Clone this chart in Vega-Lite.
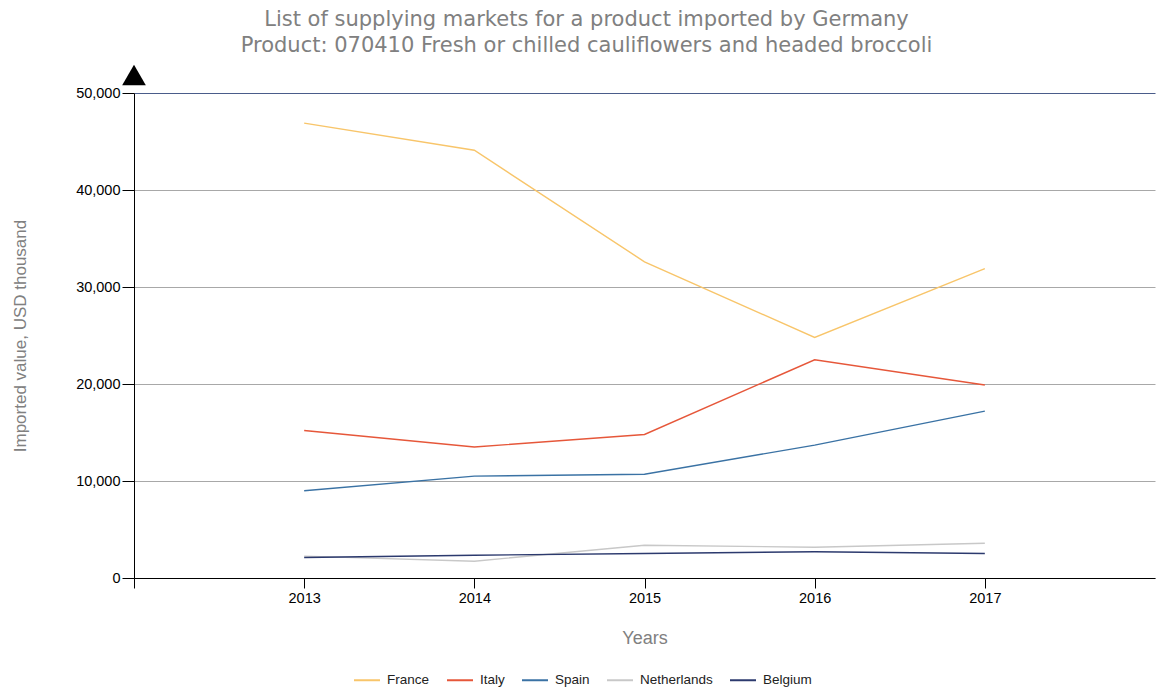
{
  "$schema": "https://vega.github.io/schema/vega-lite/v6.json",
  "autosize": {"type": "none"},
  "width": 1021,
  "height": 485,
  "padding": {"left": 134, "top": 93, "right": 1, "bottom": 110},
  "background": "white",
  "title": {
    "text": ["List of supplying markets for a product imported by Germany", "Product: 070410 Fresh or chilled cauliflowers and headed broccoli"],
    "font": "DejaVu Sans",
    "fontSize": 21,
    "fontWeight": "normal",
    "color": "#808080",
    "anchor": "middle",
    "frame": "group",
    "dx": -58,
    "offset": 9,
    "lineHeight": 26
  },
  "config": {
    "view": {"stroke": null}
  },
  "datasets": {
    "series": [
      {"country": "France", "year": 2013, "value": 46900},
      {"country": "France", "year": 2014, "value": 44100},
      {"country": "France", "year": 2015, "value": 32600},
      {"country": "France", "year": 2016, "value": 24800},
      {"country": "France", "year": 2017, "value": 31900},
      {"country": "Italy", "year": 2013, "value": 15200},
      {"country": "Italy", "year": 2014, "value": 13500},
      {"country": "Italy", "year": 2015, "value": 14800},
      {"country": "Italy", "year": 2016, "value": 22500},
      {"country": "Italy", "year": 2017, "value": 19900},
      {"country": "Spain", "year": 2013, "value": 9000},
      {"country": "Spain", "year": 2014, "value": 10500},
      {"country": "Spain", "year": 2015, "value": 10700},
      {"country": "Spain", "year": 2016, "value": 13700},
      {"country": "Spain", "year": 2017, "value": 17200},
      {"country": "Netherlands", "year": 2013, "value": 2250},
      {"country": "Netherlands", "year": 2014, "value": 1730},
      {"country": "Netherlands", "year": 2015, "value": 3380},
      {"country": "Netherlands", "year": 2016, "value": 3170},
      {"country": "Netherlands", "year": 2017, "value": 3590},
      {"country": "Belgium", "year": 2013, "value": 2110},
      {"country": "Belgium", "year": 2014, "value": 2350},
      {"country": "Belgium", "year": 2015, "value": 2530},
      {"country": "Belgium", "year": 2016, "value": 2700},
      {"country": "Belgium", "year": 2017, "value": 2530}
    ],
    "arrow": [{"year": 2012, "value": 51850}]
  },
  "encoding": {
    "x": {
      "field": "year", "type": "quantitative",
      "scale": {"domain": [2012, 2018], "nice": false, "zero": false},
      "axis": {
        "values": [2012, 2013, 2014, 2015, 2016, 2017],
        "labelExpr": "datum.value == 2012 ? '' : format(datum.value, 'd')",
        "grid": false,
        "domainColor": "#000",
        "tickColor": "#000",
        "tickSize": 10,
        "labelFont": "Liberation Sans",
        "labelFontSize": 14.5,
        "labelColor": "#000",
        "labelPadding": 3,
        "title": "Years",
        "titleFont": "Liberation Sans",
        "titleFontSize": 18,
        "titleFontWeight": "normal",
        "titleColor": "#808080",
        "titlePadding": 25
      }
    },
    "y": {
      "field": "value", "type": "quantitative",
      "scale": {"domain": [0, 50000], "nice": false},
      "axis": {
        "values": [0, 10000, 20000, 30000, 40000, 50000],
        "labelExpr": "format(datum.value, ',')",
        "grid": true,
        "gridColor": {"condition": {"test": "datum.value === 50000", "value": "#4a5c8a"}, "value": "#a8a8a8"},
        "gridWidth": 1,
        "domainColor": "#000",
        "tickColor": "#000",
        "tickSize": 12,
        "labelFont": "Liberation Sans",
        "labelFontSize": 14.5,
        "labelColor": "#000",
        "labelPadding": 2,
        "title": "Imported value, USD thousand",
        "titleFont": "Liberation Sans",
        "titleFontSize": 17,
        "titleFontWeight": "normal",
        "titleColor": "#808080",
        "titlePadding": 46
      }
    }
  },
  "layer": [
    {
      "data": {"name": "series"},
      "mark": {"type": "line", "strokeWidth": 1.4},
      "encoding": {
        "color": {
          "field": "country", "type": "nominal",
          "scale": {"domain": ["France", "Italy", "Spain", "Netherlands", "Belgium"], "range": ["#f8c56a", "#e6573a", "#3a72a4", "#c8c8c8", "#2c3a6e"]},
          "legend": {
            "title": null,
            "orient": "none",
            "legendX": 219,
            "legendY": 573,
            "direction": "horizontal",
            "symbolType": "stroke",
            "symbolSize": 676,
            "symbolStrokeWidth": 2,
            "labelFont": "Liberation Sans",
            "labelFontSize": 13.5,
            "labelColor": "#222",
            "labelOffset": 6,
            "columnPadding": 13
          }
        }
      }
    },
    {
      "data": {"name": "arrow"},
      "mark": {"type": "point", "shape": "triangle-up", "filled": true, "color": "#000", "size": 560, "opacity": 1, "clip": false}
    }
  ]
}
